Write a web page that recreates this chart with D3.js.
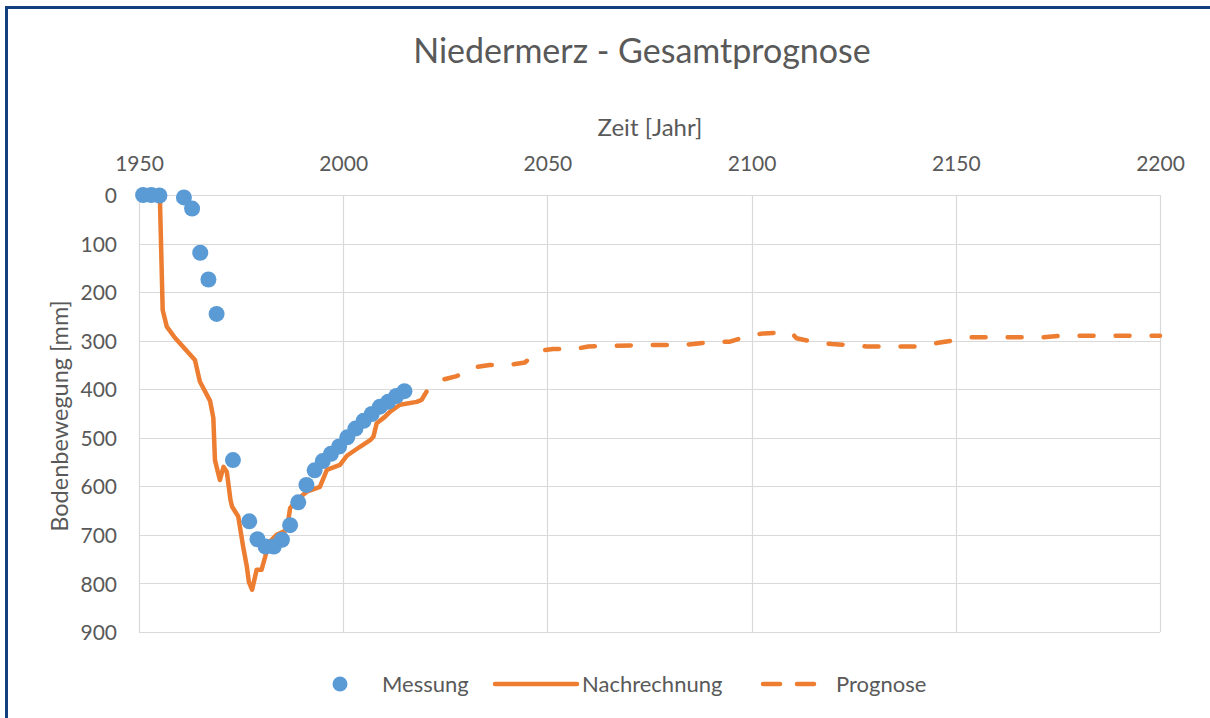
<!DOCTYPE html>
<html><head><meta charset="utf-8">
<script src="https://cdn.jsdelivr.net/npm/d3@7"></script>
<style>html,body{margin:0;padding:0;background:#fff;}svg{display:block;}</style>
</head><body>
<svg id="chart" width="1210" height="718"></svg>
<script>
// ---- data ----
const xTicks = [1950, 2000, 2050, 2100, 2150, 2200];
const yTicks = [0, 100, 200, 300, 400, 500, 600, 700, 800, 900];

const messJahre = [1951, 1953, 1955, 1961, 1963, 1965, 1967, 1969, 1973, 1977, 1979, 1981, 1983, 1985, 1987, 1989, 1991, 1993, 1995, 1997, 1999, 2001, 2003, 2005, 2007, 2009, 2011, 2013, 2015];
const messWerte = [0, 0, 1, 5, 28, 119, 174, 245, 546, 672, 709, 724, 724, 710, 680, 633, 597, 567, 548, 533, 518, 499, 481, 465, 451, 436, 426, 414, 404];

const nachJahre = [1955.1, 1955.8, 1956.8, 1958.8, 1963.7, 1964.9, 1967.4, 1968.2, 1968.6, 1969.8, 1970.7, 1971.5, 1972.4, 1972.8, 1974.3, 1975.5, 1976.4, 1976.9, 1977.7, 1978.8, 1980.0, 1980.9, 1981.7, 1983.7, 1986.2, 1987.0, 1988.6, 1991.1, 1994.3, 1996.0, 1999.2, 2000.9, 2004.2, 2006.6, 2007.4, 2008.2, 2010.2, 2011.5, 2013.9, 2018.0, 2019.2, 2020.4];
const nachWerte = [0, 237, 271, 294, 340, 384, 424, 459, 546, 587, 560, 570, 628, 642, 662, 724, 765, 797, 813, 772, 772, 745, 717, 700, 690, 645, 628, 611, 601, 566, 556, 537, 518, 505, 498, 470, 457, 446, 432, 426, 422, 405];

const progJahre = [2020.4, 2024.1, 2027.8, 2031.9, 2035.9, 2040.4, 2044.5, 2047.8, 2051.4, 2056.3, 2060.0, 2064.9, 2073.5, 2082.5, 2085.7, 2090.6, 2094.7, 2099.2, 2102.9, 2107.8, 2109.8, 2111.0, 2115.5, 2119.6, 2124.1, 2128.2, 2141.6, 2145.3, 2149.8, 2153.5, 2171.4, 2175.5, 2200];
const progWerte = [405, 381, 373, 355, 350, 350, 345, 321, 317, 318, 312, 311, 309, 309, 307, 302, 302, 290, 285, 283, 284, 295, 303, 307, 309, 312, 312, 305, 299, 293, 293, 290, 290];

const titel = "Niedermerz - Gesamtprognose";
const xTitel = "Zeit [Jahr]";
const yTitel = "Bodenbewegung [mm]";
const legendNamen = ["Messung", "Nachrechnung", "Prognose"];

// ---- drawing ----
const svg = d3.select("#chart");
const font = "Lato, 'Open Sans', sans-serif";
const textCol = "#595959", gridCol = "#d9d9d9";
const blue = "#5b9bd5", orange = "#ed7d31";

const x = d3.scaleLinear().domain([1950, 2200]).range([139, 1160]);
const y = d3.scaleLinear().domain([0, 900]).range([195, 632]);

// border
svg.append("line").attr("x1", 6.5).attr("x2", 6.5).attr("y1", 6).attr("y2", 718)
  .attr("stroke", "#133f7e").attr("stroke-width", 3);
svg.append("line").attr("x1", 5).attr("x2", 1210).attr("y1", 7.5).attr("y2", 7.5)
  .attr("stroke", "#133f7e").attr("stroke-width", 3);

// gridlines
svg.append("g").selectAll("line").data(xTicks).join("line")
  .attr("x1", d => Math.round(x(d)) + 0.5).attr("x2", d => Math.round(x(d)) + 0.5)
  .attr("y1", y(0)).attr("y2", y(900)).attr("stroke", gridCol).attr("stroke-width", 1.2);
svg.append("g").selectAll("line").data(yTicks).join("line")
  .attr("y1", d => Math.round(y(d)) + 0.5).attr("y2", d => Math.round(y(d)) + 0.5)
  .attr("x1", x(1950)).attr("x2", x(2200)).attr("stroke", gridCol).attr("stroke-width", 1.2);

// axes (labels only)
const xAxis = svg.append("g").attr("transform", `translate(0,${y(0) - 24})`)
  .call(d3.axisTop(x).tickValues(xTicks).tickFormat(d3.format("d")).tickSize(0).tickPadding(0));
xAxis.select(".domain").remove();
xAxis.selectAll("text").attr("font-family", font).attr("font-size", 21).attr("fill", textCol);

const yAxis = svg.append("g").attr("transform", `translate(${x(1950) - 22},0)`)
  .call(d3.axisLeft(y).tickValues(yTicks).tickFormat(d3.format("d")).tickSize(0).tickPadding(0));
yAxis.select(".domain").remove();
yAxis.selectAll("text").attr("font-family", font).attr("font-size", 21).attr("fill", textCol).attr("dy", "0.36em");

// titles
svg.append("text").attr("x", 642).attr("y", 63).attr("text-anchor", "middle")
  .attr("font-family", font).attr("font-size", 34).attr("fill", textCol).text(titel);
svg.append("text").attr("x", 650).attr("y", 136).attr("text-anchor", "middle")
  .attr("font-family", font).attr("font-size", 24).attr("fill", textCol).text(xTitel);
svg.append("text").attr("transform", "translate(68,416) rotate(-90)").attr("text-anchor", "middle")
  .attr("font-family", font).attr("font-size", 23.5).attr("fill", textCol).text(yTitel);

// series
const lineGen = d3.line().x(d => x(d[0])).y(d => y(d[1]));
const nach = nachJahre.map((j, i) => [j, nachWerte[i]]);
const prog = progJahre.map((j, i) => [j, progWerte[i]]);

svg.append("path").datum(prog).attr("d", lineGen).attr("fill", "none")
  .attr("stroke", orange).attr("stroke-width", 4.5).attr("stroke-linecap", "round")
  .attr("stroke-linejoin", "round").attr("stroke-dasharray", "14,22").attr("stroke-dashoffset", 14);
svg.append("path").datum(nach).attr("d", lineGen).attr("fill", "none")
  .attr("stroke", orange).attr("stroke-width", 4.5).attr("stroke-linecap", "round")
  .attr("stroke-linejoin", "round");

svg.append("g").selectAll("circle").data(messJahre).join("circle")
  .attr("cx", d => x(d)).attr("cy", (d, i) => y(messWerte[i])).attr("r", 8)
  .attr("fill", blue);

// legend
const ly = 684;
const leg = svg.append("g");
leg.append("circle").attr("cx", 340).attr("cy", ly).attr("r", 7.5).attr("fill", blue);
leg.append("text").attr("x", 382).attr("y", ly).attr("dy", "0.35em").attr("font-family", font)
  .attr("font-size", 22).attr("fill", textCol).text(legendNamen[0]);
leg.append("line").attr("x1", 495).attr("x2", 577).attr("y1", ly).attr("y2", ly)
  .attr("stroke", orange).attr("stroke-width", 4.5).attr("stroke-linecap", "round");
leg.append("text").attr("x", 582).attr("y", ly).attr("dy", "0.35em").attr("font-family", font)
  .attr("font-size", 22).attr("fill", textCol).text(legendNamen[1]);
leg.append("line").attr("x1", 763).attr("x2", 815).attr("y1", ly).attr("y2", ly)
  .attr("stroke", orange).attr("stroke-width", 4.5).attr("stroke-linecap", "round")
  .attr("stroke-dasharray", "17,17");
leg.append("text").attr("x", 836).attr("y", ly).attr("dy", "0.35em").attr("font-family", font)
  .attr("font-size", 22).attr("fill", textCol).text(legendNamen[2]);
</script>
</body></html>
